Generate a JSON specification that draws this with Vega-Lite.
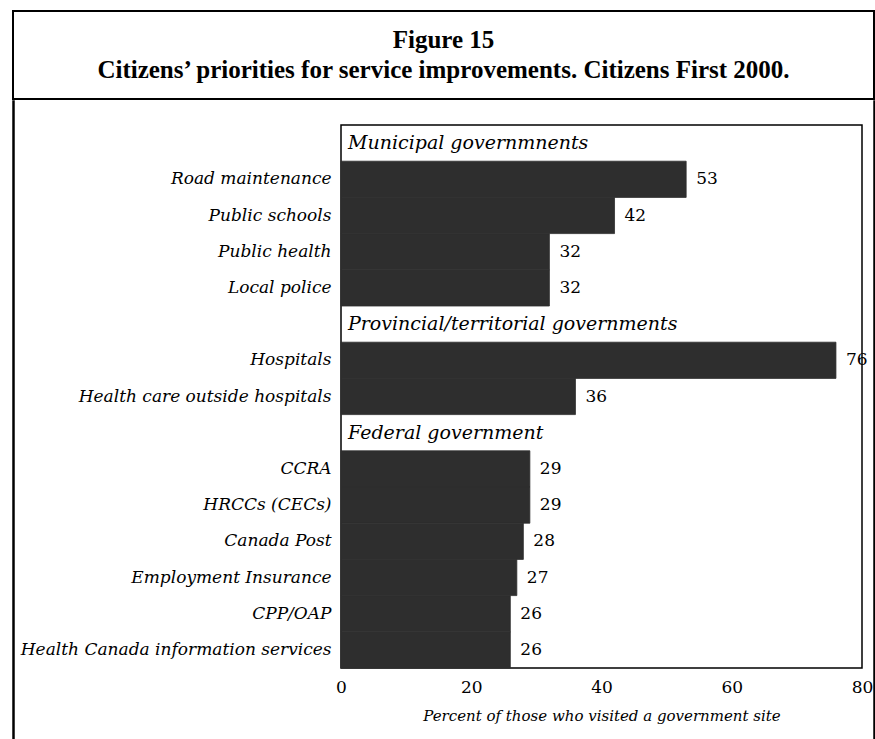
{
  "$schema": "https://vega.github.io/schema/vega-lite/v6.json",
  "padding": {"left": 12, "top": 10, "right": 0, "bottom": 0},
  "background": "white",
  "spacing": 0,
  "config": {
    "font": "DejaVu Serif",
    "view": {"stroke": "black", "strokeWidth": 1.5},
    "concat": {"spacing": 0}
  },
  "vconcat": [
    {
      "width": 861,
      "height": 88,
      "view": {"stroke": "black", "strokeWidth": 2},
      "data": {"values": [
        {"line": 1, "t": "Figure 15"},
        {"line": 2, "t": "Citizens’ priorities for service improvements. Citizens First 2000."}
      ]},
      "encoding": {
        "y": {"field": "line", "type": "ordinal", "axis": null, "scale": {"padding": 1.1}},
        "text": {"field": "t"}
      },
      "layer": [
        {"transform": [{"filter": "datum.line == 1"}], "mark": {"type": "text", "font": "Liberation Serif", "fontSize": 25, "fontWeight": "bold", "color": "black"}},
        {"transform": [{"filter": "datum.line == 2"}], "mark": {"type": "text", "font": "Liberation Serif", "fontSize": 25, "fontWeight": "bold", "color": "black"}}
      ]
    },
    {
      "spacing": -3,
      "hconcat": [
        {
          "spacing": 4,
          "hconcat": [
            {"width": 1, "height": 650, "view": {"stroke": "black", "strokeWidth": 1.5}, "data": {"values": []}, "mark": "rule", "encoding": {}},
            {
              "spacing": 0,
              "vconcat": [
                {"width": 1, "height": 23, "view": {"stroke": null}, "data": {"values": []}, "mark": "rule", "encoding": {}},
                {
                  "width": 521,
                  "height": 543,
                  "data": {"values": [
                    {"label": "Municipal governmnents", "kind": "header", "value": null},
                    {"label": "Road maintenance", "kind": "item", "value": 53},
                    {"label": "Public schools", "kind": "item", "value": 42},
                    {"label": "Public health", "kind": "item", "value": 32},
                    {"label": "Local police", "kind": "item", "value": 32},
                    {"label": "Provincial/territorial governments", "kind": "header", "value": null},
                    {"label": "Hospitals", "kind": "item", "value": 76},
                    {"label": "Health care outside hospitals", "kind": "item", "value": 36},
                    {"label": "Federal government", "kind": "header", "value": null},
                    {"label": "CCRA", "kind": "item", "value": 29},
                    {"label": "HRCCs (CECs)", "kind": "item", "value": 29},
                    {"label": "Canada Post", "kind": "item", "value": 28},
                    {"label": "Employment Insurance", "kind": "item", "value": 27},
                    {"label": "CPP/OAP", "kind": "item", "value": 26},
                    {"label": "Health Canada information services", "kind": "item", "value": 26}
                  ]},
                  "encoding": {
                    "y": {
                      "field": "label", "type": "nominal", "sort": null,
                      "scale": {"paddingInner": 0, "paddingOuter": 0, "domain": ["Municipal governmnents", "Road maintenance", "Public schools", "Public health", "Local police", "Provincial/territorial governments", "Hospitals", "Health care outside hospitals", "Federal government", "CCRA", "HRCCs (CECs)", "Canada Post", "Employment Insurance", "CPP/OAP", "Health Canada information services"]},
                      "axis": {
                        "title": null, "ticks": false, "domain": false, "grid": false,
                        "labelFontSize": 17, "labelFontStyle": "italic", "labelColor": "black",
                        "labelPadding": 10, "labelLimit": 0,
                        "labelExpr": "indexof(['Municipal governmnents', 'Provincial/territorial governments', 'Federal government'], datum.value) >= 0 ? '' : datum.value"
                      }
                    }
                  },
                  "layer": [
                    {
                      "transform": [{"filter": "datum.kind == 'item'"}],
                      "mark": {"type": "bar", "color": "#2e2e2e", "stroke": "#2e2e2e", "strokeWidth": 0.8},
                      "encoding": {
                        "x": {
                          "field": "value", "type": "quantitative",
                          "scale": {"domain": [0, 80], "nice": false},
                          "axis": {
                            "values": [0, 20, 40, 60, 80], "ticks": false, "domain": false, "grid": false,
                            "labelFontSize": 17, "labelColor": "black", "labelPadding": 11, "labelFlush": false,
                            "title": "Percent of those who visited a government site",
                            "titleFontStyle": "italic", "titleFontWeight": "normal", "titleFontSize": 15,
                            "titleColor": "black", "titlePadding": 13
                          }
                        }
                      }
                    },
                    {
                      "transform": [{"filter": "datum.kind == 'item'"}],
                      "mark": {"type": "text", "align": "left", "dx": 10, "fontSize": 17, "color": "black"},
                      "encoding": {
                        "x": {"field": "value", "type": "quantitative"},
                        "text": {"field": "value", "type": "quantitative"}
                      }
                    },
                    {
                      "transform": [{"filter": "datum.kind == 'header'"}],
                      "mark": {"type": "text", "align": "left", "dx": 7, "fontSize": 19, "fontStyle": "italic", "color": "black"},
                      "encoding": {
                        "x": {"datum": 0},
                        "text": {"field": "label"}
                      }
                    }
                  ]
                }
              ]
            }
          ]
        },
        {"width": 1, "height": 650, "view": {"stroke": "black", "strokeWidth": 1.5}, "data": {"values": []}, "mark": "rule", "encoding": {}}
      ]
    }
  ]
}
